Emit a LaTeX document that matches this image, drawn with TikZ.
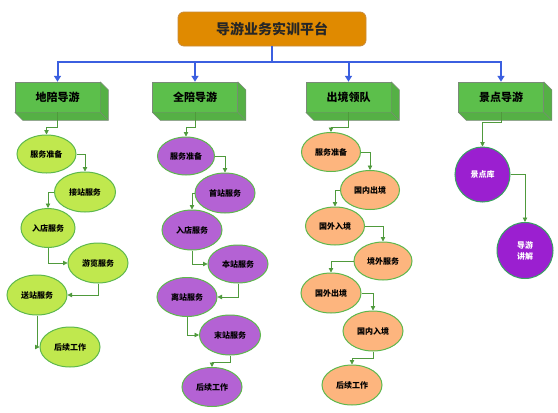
\documentclass[tikz,border=0pt]{standalone}
\usepackage{fontspec}
\newfontfamily\cjk{Noto Sans CJK SC}
\usetikzlibrary{shapes.geometric,arrows.meta}
\definecolor{topfill}{HTML}{E08A00}
\definecolor{topdraw}{HTML}{C98A3A}
\definecolor{boxfill}{HTML}{5CBF4B}
\definecolor{boxdraw}{HTML}{7A8A78}
\definecolor{bluel}{HTML}{3B5FE0}
\definecolor{conng}{HTML}{4F9A3C}
\definecolor{elldraw}{HTML}{5DB84C}
\definecolor{fillA}{HTML}{C0E84E}
\definecolor{fillB}{HTML}{B462D4}
\definecolor{fillC}{HTML}{FDB57E}
\definecolor{fillD}{HTML}{9B1FD0}
\tikzset{
  topbox/.style={draw=topdraw, line width=0.8pt, fill=topfill, rounded corners=6pt,
    minimum width=188pt, minimum height=34pt, inner sep=0pt,
    font=\cjk\bfseries\fontsize{14}{16}\selectfont, text=black!85},
  catbox/.style={draw=boxdraw, line width=0.5pt, fill=boxfill, minimum width=85pt,
    minimum height=30pt, inner sep=0pt, font=\cjk\bfseries\fontsize{11}{13}\selectfont},
  ellA/.style={ellipse, draw=elldraw, line width=1pt, fill=fillA, minimum width=60pt,
    minimum height=40pt, inner sep=0pt, font=\cjk\bfseries\fontsize{8}{10}\selectfont},
  ellB/.style={ellA, fill=fillB},
  ellC/.style={ellA, fill=fillC},
  circD/.style={circle, draw=elldraw!60!teal, line width=1pt, fill=fillD, minimum size=55pt,
    inner sep=0pt, text=white, align=center, font=\cjk\bfseries\fontsize{8}{11}\selectfont},
  blueconn/.style={draw=bluel, line width=2pt, -{Triangle[width=7pt,length=6pt]}},
  conn/.style={draw=conng, line width=0.8pt, -{Triangle[width=4.5pt,length=4.5pt]}}
}
\newcommand{\depth}[1]{%
  \fill[boxfill!92!black] (#1.north east) -- ++(8,8) -- ([shift={(8,8)}]#1.south east)
    -- ([shift={(8,8)}]#1.south west) -- (#1.south west) -- (#1.south east) -- cycle;
  \draw[boxdraw, line width=0.5pt] (#1.north east) -- ++(8,8) -- ([shift={(8,8)}]#1.south east)
    -- ([shift={(8,8)}]#1.south west) -- (#1.south west);
  \draw[boxdraw, line width=0.5pt] (#1.south east) -- ++(8,8);
}
\begin{document}
\begin{tikzpicture}[x=1pt, y=-1pt]
\useasboundingbox[fill=white] (0,0) rectangle (558,413);

\node[topbox] (top) at (272,29) {导游业务实训平台};

\node[catbox] (g1) at (57.5,97) {地陪导游};
\node[catbox] (g2) at (195,97) {全陪导游};
\node[catbox] (g3) at (348.5,97) {出境领队};
\node[catbox] (g4) at (501,97) {景点导游};
\depth{g1}\depth{g2}\depth{g3}\depth{g4}

\foreach \g in {g1,g2,g3,g4}
  \draw[blueconn] (top.south) -- ++(0,16) -| (\g.north);

% column 1
\node[ellA, minimum width=59pt, minimum height=38pt] (a1) at (46.5,154) {服务准备};
\node[ellA, minimum width=61pt] (a2) at (85,192) {接站服务};
\node[ellA, minimum width=54pt, minimum height=39pt] (a3) at (48,228) {入店服务};
\node[ellA] (a4) at (98,263) {游览服务};
\node[ellA] (a5) at (37,295) {送站服务};
\node[ellA] (a6) at (70,347) {后续工作};

% column 2
\node[ellB, minimum width=57pt, minimum height=38pt] (b1) at (186,156) {服务准备};
\node[ellB] (b2) at (225,193) {首站服务};
\node[ellB] (b3) at (192,230) {入店服务};
\node[ellB, minimum height=38pt] (b4) at (238,264) {本站服务};
\node[ellB, minimum height=39pt] (b5) at (187,297) {离站服务};
\node[ellB, minimum width=61pt] (b6) at (230,335) {末站服务};
\node[ellB, minimum height=39pt] (b7) at (212,387) {后续工作};

% column 3
\node[ellC, minimum width=59pt, minimum height=39pt] (c1) at (331,152) {服务准备};
\node[ellC, minimum width=59pt, minimum height=39pt] (c2) at (370,190) {国内出境};
\node[ellC, minimum width=59pt, minimum height=38pt] (c3) at (335,226) {国外入境};
\node[ellC, minimum width=58pt, minimum height=38pt] (c4) at (383,261) {境外服务};
\node[ellC] (c5) at (331,293) {国外出境};
\node[ellC] (c6) at (373,331) {国内入境};
\node[ellC] (c7) at (352,385) {后续工作};

% column 4
\node[circD] (d1) at (482.5,174.5) {景点库};
\node[circD, minimum size=56pt] (d2) at (525,250.5) {导游\\讲解};

% connectors from categories
\draw[conn] (g1.south) -- ++(0,15) -| (a1.north);
\draw[conn] (g2.south) -- ++(0,15) -| (b1.north);
\draw[conn] (g3.south) -- ++(0,15) -| (c1.north);
\draw[conn] (g4.south) -- ++(0,10) -| (d1.north);

% column 1 flow
\draw[conn] (a1.east) -| (a2.north);
\draw[conn] (a2.west) -| (a3.north);
\draw[conn] (a3.south) |- (a4.west);
\draw[conn] (a4.south) |- (a5.east);
\draw[conn] (a5.south) |- (a6.west);

% column 2 flow
\draw[conn] (b1.east) -| (b2.north);
\draw[conn] (b2.west) -| (b3.north);
\draw[conn] (b3.south) |- (b4.west);
\draw[conn] (b4.south) |- (b5.east);
\draw[conn] (b5.south) |- (b6.west);
\draw[conn] (b6.south) -- ++(0,7) -| (b7.north);

% column 3 flow
\draw[conn] (c1.east) -| (c2.north);
\draw[conn] (c2.west) -| (c3.north);
\draw[conn] (c3.east) -| (c4.north);
\draw[conn] (c4.west) -| (c5.north);
\draw[conn] (c5.east) -| (c6.north);
\draw[conn] (c6.south) -- ++(0,7) -| (c7.north);

% column 4 flow
\draw[conn] (d1.east) -| (d2.north);
\end{tikzpicture}
\end{document}
